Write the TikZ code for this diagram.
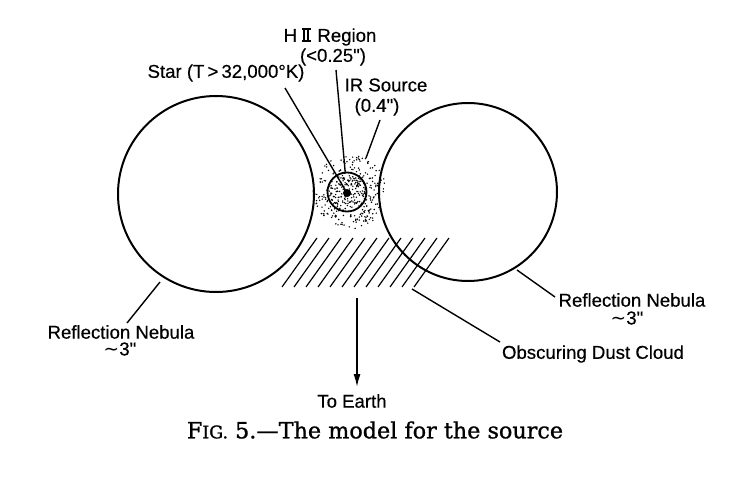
\documentclass[tikz,border=0pt]{standalone}
\usepackage{fontspec}
\setmainfont{DejaVu Serif}
\newfontfamily\capfont[FakeBold=1,Ligatures=TeX]{DejaVu Serif}
\newfontfamily\lbl[FakeBold=0.4]{Liberation Sans}
\newfontfamily\djv{DejaVu Sans}
\usetikzlibrary{arrows.meta}
\newcommand\romtwo{\leavevmode\hbox{\kern0.04em\rlap{\rule{0.5em}{0.075em}}\rlap{\raisebox{0.641em}{\rule{0.5em}{0.075em}}}\kern0.1em\rule{0.08em}{0.716em}\kern0.14em\rule{0.08em}{0.716em}\kern0.14em}\kern0.04em}
\begin{document}
\begin{tikzpicture}[x=1pt,y=-1pt,
  nebula/.style={circle,draw,line width=2pt,inner sep=0pt},
  leader/.style={line width=1.4pt},
  hatch/.style={line width=1.2pt},
  lab/.style={inner sep=0pt,font=\lbl\fontsize{18.6}{22}\selectfont},
  speck/.style={fill=black}
]
\useasboundingbox (0,0) rectangle (742,495);
\fill[white] (0,0) rectangle (742,495);

% reflection nebulae
\node[nebula,minimum size=196pt] (lneb) at (216,194) {};
\node[nebula,minimum size=178pt] (rneb) at (468,192) {};

% IR cloud (stipple)
\pgfmathsetseed{7}
\foreach \i in {1,...,300}{
  \pgfmathsetmacro\rr{37*sqrt(rnd)}
  \pgfmathsetmacro\aa{360*rnd}
  \fill[speck,shift={(350,192)}] (\aa:\rr) circle (0.8pt);
}
\foreach \i in {1,...,90}{
  \pgfmathsetmacro\rr{19*sqrt(rnd)}
  \pgfmathsetmacro\aa{360*rnd}
  \fill[speck,shift={(347,192)}] (\aa:\rr) circle (0.8pt);
}

% H II region and star
\node[circle,draw,line width=1.8pt,minimum size=39pt,inner sep=0pt] (hii) at (347,192) {};
\node[circle,fill,inner sep=0pt,minimum size=8pt] (star) at (347,193) {};

% obscuring dust cloud (hatching)
\foreach \i in {0,...,11}{
  \draw[hatch] ({282+12*\i},287) -- ({317+12*\i},238);
}

% labels
\node[lab] (hiilab) at (330,37) {H\kern0.2em\romtwo\ Region};
\node[lab] (hiisize) at (333,57) {(<0.25")};
\node[lab] (starlab) at (226,73) {Star (T\,>\,32,000°K)};
\node[lab] (irlab) at (386,85) {IR Source};
\node[lab] (irsize) at (377,107) {(0.4")};
\node[lab] (lneblab) at (121,332) {Reflection Nebula};
\node[lab] (lnebsize) at (120,349) {{\djv ∼}3"};
\node[lab] (rneblab) at (632,300) {Reflection Nebula};
\node[lab] (rnebsize) at (627,318) {{\djv ∼}3"};
\node[lab] (dustlab) at (593,354) {Obscuring Dust Cloud};
\node[lab] (earthlab) at (352,401) {To Earth};
\node[inner sep=0pt,font=\capfont\fontsize{22.3}{26}\selectfont] (cap) at (375,430)
  {F{\fontsize{17.4}{20}\selectfont IG.} 5.—The model for the source};

% leader lines
\coordinate (starend) at (285,88);
\draw[leader] (starend) -- (star.center);
\coordinate (hiiend) at (336,70);
\draw[leader] (hiiend) -- (hii);
\coordinate (irA) at (380,120);
\coordinate (irB) at (366,158);
\draw[leader] (irA) -- (irB);
\coordinate (lA) at (127,323);
\coordinate (lB) at (160,282);
\draw[leader] (lA) -- (lB);
\coordinate (rA) at (555,297);
\coordinate (rB) at (517,270);
\draw[leader] (rA) -- (rB);
\coordinate (dA) at (500,342);
\coordinate (dB) at (412,289);
\draw[leader] (dA) -- (dB);

% arrow to Earth
\coordinate (arrS) at (357,298);
\coordinate (arrE) at (357,387);
\draw[line width=1.5pt,-{Latex[length=13pt,width=7pt]}] (arrS) -- (arrE);
\end{tikzpicture}
\end{document}
